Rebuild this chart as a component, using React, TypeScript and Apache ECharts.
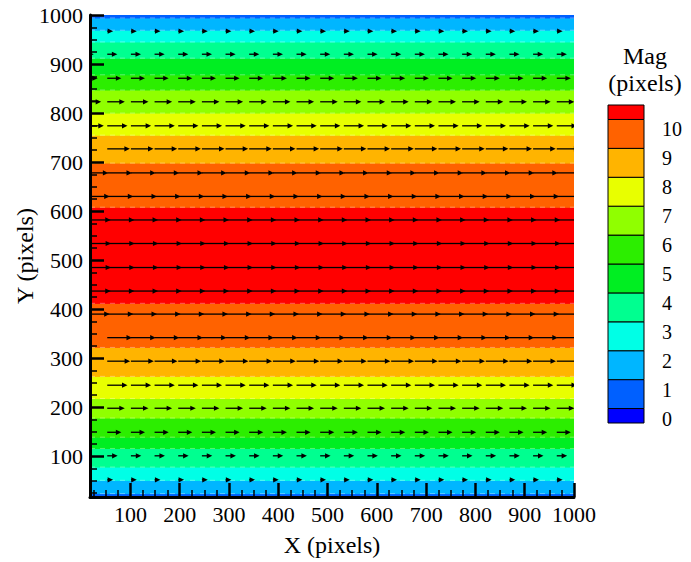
import React, { useEffect, useRef } from "react";
import * as echarts from "echarts";

// Contour levels of the displacement magnitude and the colour of each band
// (below 0, 0-1, 1-2, ..., 9-10, above 10).
const contourLevels = [0, 1, 2, 3, 4, 5, 6, 7, 8, 9, 10];
const bandColors = [
  "#0000ff", "#0060ff", "#00b6ff", "#00ffe6", "#00ff90", "#00ee22",
  "#2cee00", "#90ff00", "#e8ff00", "#ffb400", "#ff6200", "#ff0000",
];

// Y where Mag crosses the levels 1..10, below and above the channel centre.
const lowerCrossingY = [24, 51, 78, 116, 139, 178, 218, 263, 322, 412];
const upperCrossingY = [994, 969, 945, 912, 878, 847, 800, 755, 698, 608];

// Vector grid: row positions, the magnitude along each row and column positions.
const vectorRowY = [52, 101, 149, 198, 245, 294, 342, 390, 437, 485, 534, 582, 630, 678, 727, 774, 823, 871, 920, 967];
const vectorRowMag = [2.2, 3.9, 5.3, 6.6, 7.6, 8.6, 9.3, 9.8, 10.2, 10.35, 10.35, 10.2, 9.8, 9.3, 8.5, 7.6, 6.6, 5.3, 3.8, 2.2];
const vectorColX = [53, 101, 149, 197, 245, 293, 341, 389, 437, 485, 533, 581, 629, 677, 725, 773, 821, 869, 917, 965];
// Column at the left border, present only on these rows.
const edgeColX = 5;
const edgeColRows = [7, 8, 9, 10, 11, 12, 13, 15, 16, 17, 18];

const X_MIN = 18;
const Y_MIN = 17;
const AXIS_MAX = 1000;
const VECTOR_SCALE = 5.4; // axis units per pixel of displacement

const FONT = "Liberation Serif";

function buildBands() {
  // [yFrom, yTo, representative magnitude]
  const bands: number[][] = [];
  bands.push([Y_MIN, lowerCrossingY[0], 0.5]);
  for (let i = 1; i < lowerCrossingY.length; i++) {
    bands.push([lowerCrossingY[i - 1], lowerCrossingY[i], i + 0.5]);
  }
  const n = upperCrossingY.length;
  bands.push([lowerCrossingY[n - 1], upperCrossingY[n - 1], 10.5]);
  for (let i = n - 1; i >= 1; i--) {
    bands.push([upperCrossingY[i], upperCrossingY[i - 1], i + 0.5]);
  }
  bands.push([upperCrossingY[0], AXIS_MAX, 0.5]);
  return bands;
}

function buildVectors() {
  const out: number[][] = [];
  vectorRowY.forEach((y, r) => {
    const m = vectorRowMag[r];
    if (edgeColRows.indexOf(r) >= 0) out.push([edgeColX, y, m]);
    vectorColX.forEach((x) => out.push([x, y, m]));
  });
  return out;
}

function buildColorbar() {
  const first = contourLevels[0];
  const last = contourLevels[contourLevels.length - 1];
  const boxes: number[][] = [[first - 0.5, first, first - 0.25]];
  for (let i = 1; i < contourLevels.length; i++) {
    const lo = contourLevels[i - 1];
    const hi = contourLevels[i];
    boxes.push([lo, hi, (lo + hi) / 2]);
  }
  boxes.push([last, last + 0.5, last + 0.25]);
  return boxes;
}

function buildPieces() {
  const pieces: any[] = [{ lt: contourLevels[0], color: bandColors[0] }];
  for (let i = 1; i < contourLevels.length; i++) {
    pieces.push({ gte: contourLevels[i - 1], lt: contourLevels[i], color: bandColors[i] });
  }
  pieces.push({ gte: contourLevels[contourLevels.length - 1], color: bandColors[bandColors.length - 1] });
  return pieces;
}

export default function App() {
  const ref = useRef<HTMLDivElement>(null);

  useEffect(() => {
    if (!ref.current) return;
    const chart = echarts.init(ref.current, null, { renderer: "svg" });

    const axisCommon = {
      type: "value",
      max: AXIS_MAX,
      splitNumber: 10,
      z: 10,
      nameLocation: "middle",
      nameMoveOverlap: false,
      nameTextStyle: { fontFamily: FONT, fontSize: 24, color: "#000" },
      axisLine: { show: true, onZero: false, lineStyle: { color: "#000", width: 3 } },
      axisTick: { show: true, inside: true, length: 14, lineStyle: { color: "#000", width: 2.5 } },
      minorTick: { show: true, splitNumber: 4, length: 7, lineStyle: { color: "#000", width: 1.5 } },
      splitLine: { show: false },
      minorSplitLine: { show: false },
    };

    const tickLabel = (v: number) => String(v);

    const option: any = {
      animation: false,
      backgroundColor: "#fff",
      grid: [
        { left: 90, top: 15, width: 484, height: 482, containLabel: false, outerBoundsMode: "none" },
        { left: 608, top: 105, width: 36, height: 318, containLabel: false, outerBoundsMode: "none" },
      ],
      xAxis: [
        {
          ...axisCommon,
          gridIndex: 0,
          min: X_MIN,
          name: "X (pixels)",
          nameGap: 36,
          axisLabel: { fontFamily: FONT, fontSize: 22, color: "#000", margin: 6, showMinLabel: false, formatter: tickLabel },
        },
        { type: "value", gridIndex: 1, min: 0, max: 1, show: false },
      ],
      yAxis: [
        {
          ...axisCommon,
          gridIndex: 0,
          min: Y_MIN,
          name: "Y (pixels)",
          nameGap: 53,
          axisLabel: { fontFamily: FONT, fontSize: 22, color: "#000", margin: 7, showMinLabel: false, formatter: tickLabel },
        },
        {
          type: "value",
          gridIndex: 1,
          min: contourLevels[0] - 0.5,
          max: contourLevels[contourLevels.length - 1] + 0.5,
          splitNumber: 11,
          position: "right",
          axisLine: { show: false },
          axisTick: { show: false },
          splitLine: { show: false },
          axisLabel: {
            fontFamily: FONT,
            fontSize: 20,
            color: "#000",
            margin: 18,
            align: "left",
            verticalAlign: "top",
            showMinLabel: false,
            showMaxLabel: false,
            formatter: (v: number) => (Number.isInteger(v) ? String(v) : ""),
          },
        },
      ],
      visualMap: {
        type: "piecewise",
        show: false,
        dimension: 2,
        seriesIndex: [0, 2],
        pieces: buildPieces(),
      },
      graphic: [
        {
          type: "text",
          x: 645,
          y: 56,
          style: { text: "Mag", fontFamily: FONT, fontSize: 24, fill: "#000", align: "center", verticalAlign: "middle" },
        },
        {
          type: "text",
          x: 645,
          y: 83,
          style: { text: "(pixels)", fontFamily: FONT, fontSize: 24, fill: "#000", align: "center", verticalAlign: "middle" },
        },
      ],
      series: [
        {
          type: "custom",
          name: "contour",
          xAxisIndex: 0,
          yAxisIndex: 0,
          clip: true,
          data: buildBands(),
          renderItem: (params: any, api: any) => {
            const y0 = api.value(0);
            const y1 = api.value(1);
            const a = api.coord([X_MIN, y1]);
            const b = api.coord([AXIS_MAX, y0]);
            const color = api.visual("color");
            const children: any[] = [
              {
                type: "rect",
                shape: { x: a[0], y: a[1], width: b[0] - a[0], height: b[1] - a[1] },
                style: { fill: color, stroke: color, lineWidth: 1 },
              },
            ];
            if (y1 < AXIS_MAX) {
              children.push({
                type: "line",
                z2: 10,
                shape: { x1: a[0], y1: a[1], x2: b[0], y2: a[1] },
                style: { stroke: "rgba(255,255,255,0.35)", lineWidth: 1, lineDash: [5, 5] },
              });
            }
            return { type: "group", children };
          },
        },
        {
          type: "custom",
          name: "vectors",
          xAxisIndex: 0,
          yAxisIndex: 0,
          clip: true,
          z: 3,
          data: buildVectors(),
          renderItem: (params: any, api: any) => {
            const x = api.value(0);
            const y = api.value(1);
            const m = api.value(2);
            const p0 = api.coord([x, y]);
            const p1 = api.coord([x + m * VECTOR_SCALE, y]);
            const head = 5.5;
            const half = 2.6;
            return {
              type: "group",
              children: [
                {
                  type: "line",
                  shape: { x1: p0[0], y1: p0[1], x2: p1[0] - head * 0.5, y2: p1[1] },
                  style: { stroke: "#000", lineWidth: 1.3 },
                },
                {
                  type: "polygon",
                  shape: {
                    points: [
                      [p1[0], p1[1]],
                      [p1[0] - head, p1[1] - half],
                      [p1[0] - head, p1[1] + half],
                    ],
                  },
                  style: { fill: "#000" },
                },
              ],
            };
          },
        },
        {
          type: "custom",
          name: "colorbar",
          xAxisIndex: 1,
          yAxisIndex: 1,
          data: buildColorbar(),
          renderItem: (params: any, api: any) => {
            const lo = api.value(0);
            const hi = api.value(1);
            const a = api.coord([0, hi]);
            const b = api.coord([1, lo]);
            return {
              type: "rect",
              shape: { x: a[0], y: a[1], width: b[0] - a[0], height: b[1] - a[1] },
              style: { fill: api.visual("color"), stroke: "#000", lineWidth: 1 },
            };
          },
        },
      ],
    };

    chart.setOption(option);
    return () => chart.dispose();
  }, []);

  return (
    <div
      ref={ref}
      style={{ position: "fixed", left: 0, top: 0, width: 691, height: 562, background: "#fff" }}
    />
  );
}
